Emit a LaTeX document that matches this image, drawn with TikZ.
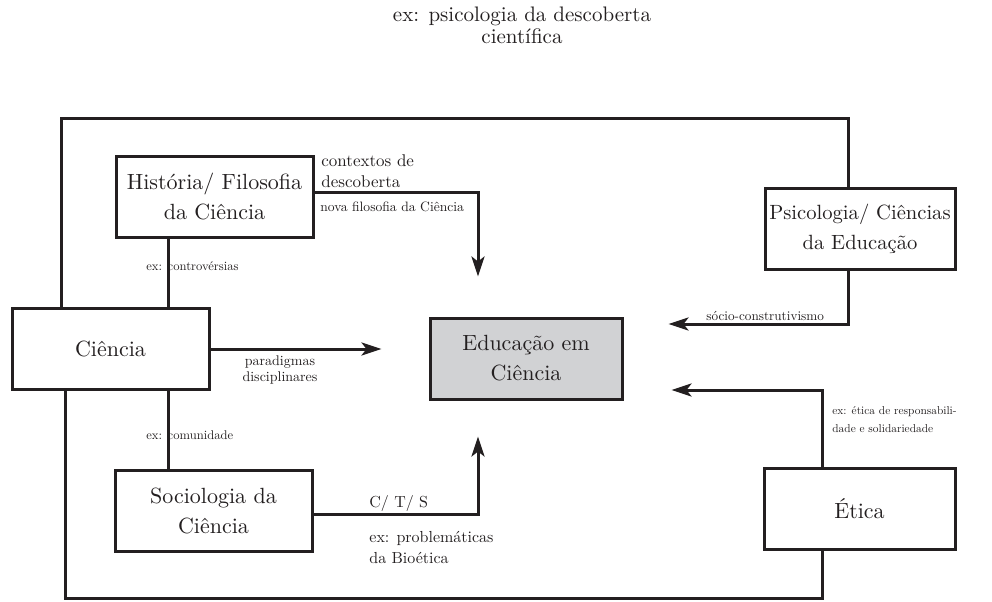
\documentclass[tikz,border=0pt]{standalone}
\usepackage{fontspec}
\setmainfont{lmroman10-regular.otf}[BoldFont=lmroman10-bold.otf, ItalicFont=lmroman10-italic.otf]
\usepackage{xcolor}
\usepackage{tikz}
\usetikzlibrary{arrows.meta, positioning}

\definecolor{inkc}{HTML}{231F20}
\definecolor{boxgray}{HTML}{D1D2D4}

\begin{document}
\begin{tikzpicture}[
    x=0.5pt, y=-0.5pt,
    every node/.style={text=inkc},
    block/.style={rectangle, draw=inkc, fill=white, line width=1.5pt, minimum width=98.5pt, minimum height=40.5pt, align=center, inner sep=2pt, font=\fontsize{11}{15}\selectfont},
    lab/.style={inner sep=0pt, anchor=west, align=left, font=\fontsize{6.3}{8}\selectfont},
    link/.style={draw=inkc, line width=1.5pt},
    arrow/.style={link, -{Stealth[length=10pt, width=6.5pt, inset=2.5pt]}}
]
\useasboundingbox (0,0) rectangle (992,601);

% Top caption
\node [align=center, font=\fontsize{10.5}{11}\selectfont] (psidesc) at (522,25) {ex: psicologia da descoberta\\científica};

% Left column
\node [block] (hist) at (214.5,196.5) {História/ Filosofia\\da Ciência};
\node [block] (cien) at (110.5,349) {Ciência};
\node [block] (soc) at (213.5,510.5) {Sociologia da\\Ciência};

% Centre
\node [block, fill=boxgray, minimum width=96pt] (educ) at (526,358.5) {Educação em\\Ciência};

% Right column
\node [block, minimum width=95pt, font=\fontsize{10.3}{15}\selectfont] (psi) at (860,228.5) {Psicologia/ Ciências\\da Educação};
\node [block, minimum width=95.5pt] (etica) at (859.5,508.5) {Ética};

% Helper points
\coordinate (top) at (0,118);
\coordinate (bot) at (0,598);
\coordinate (hc) at ([xshift=-23.25pt]hist.south);
\coordinate (cn) at ([xshift=-24.75pt]cien.north);
\coordinate (cs) at ([xshift=-22.75pt]cien.south);
\coordinate (pn) at ([xshift=-6pt]psi.north);
\coordinate (es) at ([xshift=-18.75pt]etica.south);

% Frame and plain links
\draw [link] (cn) -- (cn |- top) -| (pn);
\draw [link] (cs) -- (cs |- bot) -| (es);
\draw [link] (hc) -- (hc |- cien.north);
\draw [link] (hc |- cien.south) -- (hc |- soc.north);

% Arrows into Educacao
\draw [arrow, shorten >=20pt] ([yshift=2.25pt]hist.east) -| ([xshift=-24pt]educ.north);
\draw [arrow, shorten >=23.5pt] (cien.east) -- (cien.east -| educ.west);
\draw [arrow, shorten >=18pt] ([yshift=-1.75pt]soc.east) -| ([xshift=-24pt]educ.south);
\draw [arrow, shorten >=22.5pt] ([xshift=-6pt]psi.south) |- ([yshift=17.25pt]educ.east);
\draw [arrow, shorten >=24pt] ([xshift=-18.75pt]etica.north) |- ([yshift=-15.75pt]educ.east);

% Labels
\node [lab, font=\fontsize{8.5}{10.5}\selectfont] (ctx) at (321,171) {contextos de\\descoberta};
\node [lab, font=\fontsize{6.8}{8}\selectfont] (nova) at (320,207) {nova filosofia da Ciência};
\node [lab] (contr) at (146,266) {ex: controvérsias};
\node [lab] (comun) at (146,435) {ex: comunidade};
\node [lab, anchor=center, align=center, font=\fontsize{7}{8}\selectfont] (parad) at (280,370) {paradigmas\\disciplinares};
\node [lab, font=\fontsize{8}{10}\selectfont] (cts) at (369,503) {C/ T/ S};
\node [lab, font=\fontsize{8}{10.5}\selectfont] (probl) at (369,547.5) {ex: problemáticas\\da Bioética};
\node [lab, font=\fontsize{6.6}{8}\selectfont] (socio) at (706,316) {sócio-construtivismo};
\node [lab, font=\fontsize{5.7}{9}\selectfont] (etl) at (832,420) {ex: ética de responsabili-\\dade e solidariedade};

\end{tikzpicture}
\end{document}
